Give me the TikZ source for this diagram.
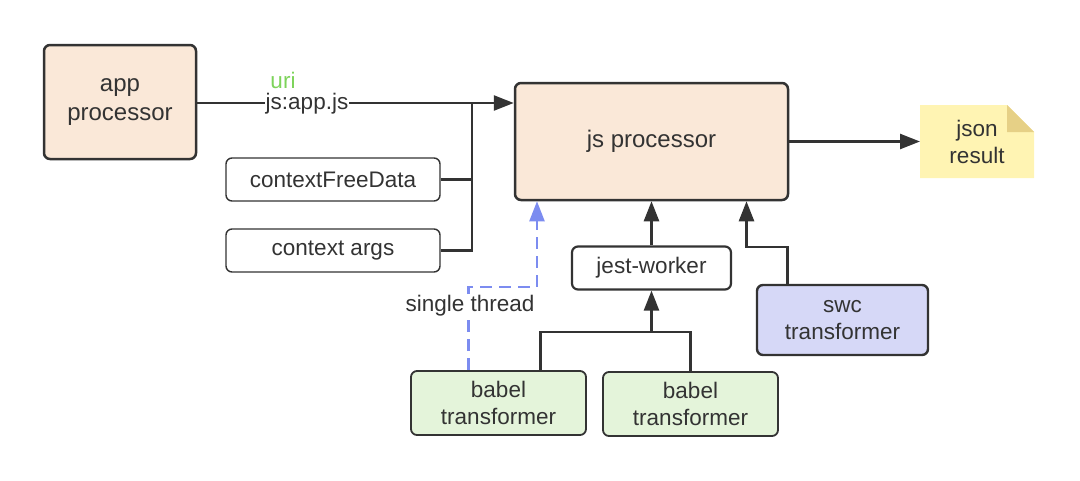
\documentclass[tikz,border=0pt]{standalone}
\usepackage{fontspec}
\setmainfont{Liberation Sans}
\usepackage{xcolor}
\usepackage{tikz}
\usetikzlibrary{arrows.meta,positioning,calc}
\definecolor{inkgray}{RGB}{51,51,51}
\definecolor{peach}{RGB}{250,232,216}
\definecolor{swcblue}{RGB}{214,216,247}
\definecolor{babelgreen}{RGB}{228,244,218}
\definecolor{noteyellow}{RGB}{255,244,179}
\definecolor{notefold}{RGB}{230,208,134}
\definecolor{threadblue}{RGB}{124,140,240}
\definecolor{urigreen}{RGB}{125,211,90}

\begin{document}
\begin{tikzpicture}[
  x=1pt,y=-1pt,
  font=\fontsize{22.5}{27.5}\selectfont,
  text=inkgray,
  proc/.style={rectangle,rounded corners=6pt,draw=inkgray,line width=2.5pt,fill=peach,align=center,
               font=\fontsize{24}{29}\selectfont},
  inp/.style={rectangle,rounded corners=6pt,draw=inkgray,line width=1.4pt,fill=white,
              minimum width=214pt,minimum height=43pt},
  wrk/.style={rectangle,rounded corners=6pt,draw=inkgray,line width=2.2pt,fill=white,
              minimum width=159pt,minimum height=43pt},
  swcbox/.style={rectangle,rounded corners=6pt,draw=inkgray,line width=2.4pt,fill=swcblue,
                 minimum width=171pt,minimum height=70pt,align=center},
  babelbox/.style={rectangle,rounded corners=6pt,draw=inkgray,line width=1.8pt,fill=babelgreen,
                   minimum width=175pt,minimum height=64pt,align=center},
  conn/.style={draw=inkgray,line width=2.5pt},
  arr/.style={conn,-{Triangle[length=20pt,width=15pt]}},
  dsh/.style={draw=threadblue,line width=2.2pt,dash pattern=on 12pt off 7pt,
              -{Triangle[length=20pt,width=15pt]}},
  lab/.style={fill=white,inner sep=1pt}]

\useasboundingbox (0,0) rectangle (1080,480);

% ================= processors =================
\node[proc,minimum width=152pt,minimum height=114pt] (app) at (120,102) {app\\processor};
\node[proc,minimum width=273pt,minimum height=117pt] (js) at (651.5,141.5) {js processor};

% json result note with folded corner
\fill[noteyellow] (920,105) -- (1007,105) -- (1034,132) -- (1034,178) -- (920,178) -- cycle;
\fill[notefold] (1007,105) -- (1034,132) -- (1007,132) -- cycle;
\node[align=center] (json) at (977,142) {json\\result};

% ================= inputs =================
\node[inp] (cfd) at (333,179.5) {contextFreeData};
\node[inp] (cargs) at (333,250.5) {context args};

% ================= workers / transformers =================
\node[wrk] (jw) at (651.5,268) {jest-worker};
\node[swcbox] (swc) at (842.5,320) {swc\\transformer};
\node[babelbox] (b1) at (498.5,403) {babel\\transformer};
\node[babelbox] (b2) at (690.5,404) {babel\\transformer};

% ================= connectors =================
\coordinate (jn) at (472,103);
\draw[arr] (jn -| app.east) -- (jn -| js.west);
\draw[conn] (cfd.east) -| (jn);
\draw[conn] (cargs.east) -| (jn);
\node[lab] (uriarg) at (307,104) {js:app.js};
\node[text=urigreen] (uri) at (283,80) {uri};

\draw[arr] (js.east) -- (920,141.5);

\draw[arr] (jw.north) -- (jw.north |- js.south);
\coordinate (sj) at (746.5,247);
\draw[arr] ([xshift=-55pt]swc.north) |- (sj) -- (sj |- js.south);

\coordinate (bj) at (651.5,332);
\draw[conn] ([xshift=42pt]b1.north) |- (bj) -| (b2.north);
\draw[arr] (bj) -- (jw.south);

% single thread path (dashed)
\coordinate (st) at (537,287);
\draw[dsh] ([xshift=-30pt]b1.north) |- (st) -- (st |- js.south);
\node[lab] (thread) at (470,306) {single thread};
\end{tikzpicture}
\end{document}
